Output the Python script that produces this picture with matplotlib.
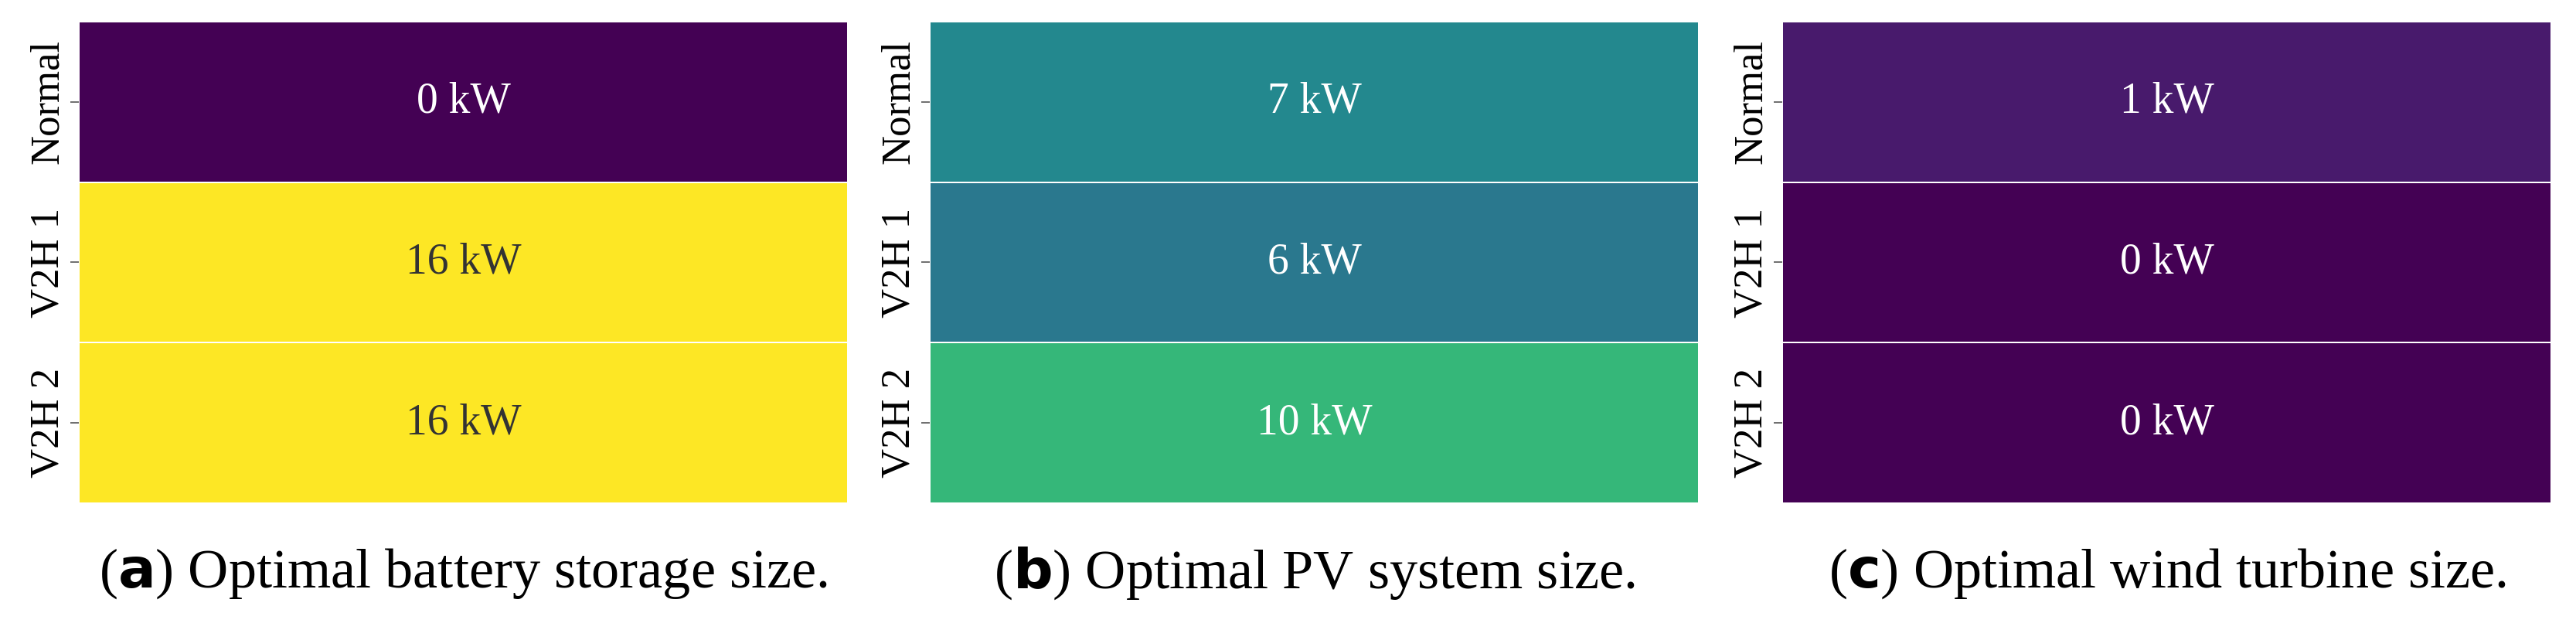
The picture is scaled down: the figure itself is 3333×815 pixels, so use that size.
import matplotlib
matplotlib.use("Agg")
import matplotlib.pyplot as plt
import numpy as np

# %% Données
scenarios = ["Normal", "V2H 1", "V2H 2"]
battery_kw = [0, 16, 16]
pv_kw = [7, 6, 10]
wind_kw = [1, 0, 0]
captions = [("a", "Optimal battery storage size."),
            ("b", "Optimal PV system size."),
            ("c", "Optimal wind turbine size.")]

plt.rcParams['font.family'] = ['Liberation Serif', 'DejaVu Serif']

fig = plt.figure(figsize=(33.33, 8.15), dpi=100)
lefts = [0.0306, 0.361, 0.692]
cmap = plt.get_cmap('viridis')

for left, vals, (lettre, texte) in zip(lefts, [battery_kw, pv_kw, wind_kw], captions):
    ax = fig.add_axes([left, 0.201, 0.2985, 0.765])
    data = np.array(vals, dtype=float).reshape(-1, 1)
    ax.pcolormesh(data, cmap=cmap, vmin=0, vmax=15, edgecolors='white', linewidth=1.2)
    ax.set_ylim(len(vals), 0)
    ax.set_xlim(0, 1)
    for i, v in enumerate(vals):
        col = '#333333' if v >= 11 else 'white'
        ax.text(0.5, i + 0.5, f"{v} kW", ha='center', va='center', fontsize=40, color=col)
    ax.set_xticks([])
    ax.set_yticks(np.arange(len(vals)) + 0.5)
    ax.set_yticklabels(scenarios, rotation=90, va='center', fontsize=38)
    ax.tick_params(axis='y', length=8, width=1.2, color='#555555')
    for s in ax.spines.values():
        s.set_visible(False)
    fig.text(left + 0.2985 / 2, 0.09, f"($\\bf{{{lettre}}}$) {texte}", ha='center', va='center',
             fontsize=52)

fig.savefig("out.png", dpi=100)
